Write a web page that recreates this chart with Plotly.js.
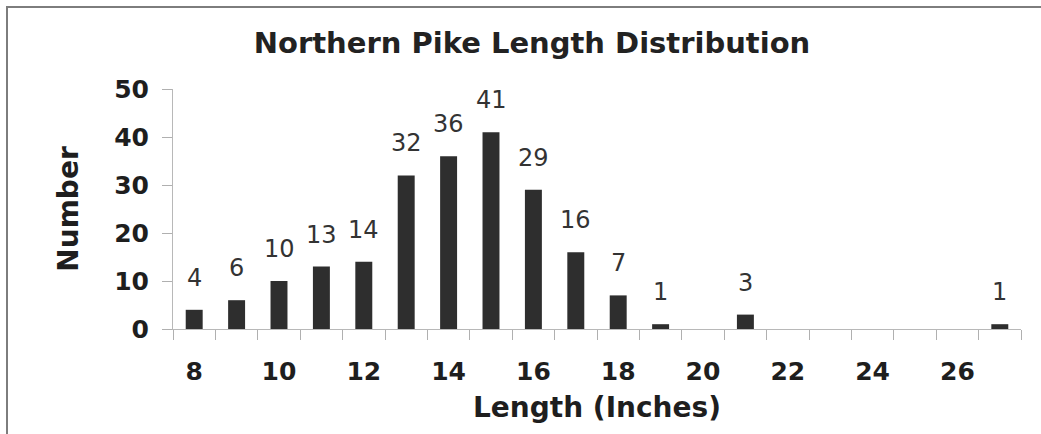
<!DOCTYPE html>
<html>
<head>
<meta charset="utf-8">
<script src="https://cdn.plot.ly/plotly-3.0.1.min.js"></script>
<style>
  html, body { margin: 0; padding: 0; background: #ffffff; }
  #chart { width: 1041px; height: 434px; }
</style>
</head>
<body>
<div id="chart"></div>
<script>
// ---- data ----
const lengths = [8, 9, 10, 11, 12, 13, 14, 15, 16, 17, 18, 19, 20, 21, 22, 23, 24, 25, 26, 27];
const counts  = [4, 6, 10, 13, 14, 32, 36, 41, 29, 16, 7, 1, 0, 3, 0, 0, 0, 0, 0, 1];
const xTickVals = [8, 10, 12, 14, 16, 18, 20, 22, 24, 26];
const yTickVals = [0, 10, 20, 30, 40, 50];
const chartTitle = "Northern Pike Length Distribution";
const xTitle = "Length (Inches)";
const yTitle = "Number";

// ---- layout constants ----
const W = 1041, H = 434;
const M = { l: 173, r: 20, t: 89, b: 105 };
const plotW = W - M.l - M.r, plotH = H - M.t - M.b;
const px2x = px => (px - M.l) / plotW;
const py2y = py => (H - M.b - py) / plotH;

const font = "DejaVu Sans, Liberation Sans, Arial, sans-serif";

const trace = {
  type: 'bar',
  x: lengths,
  y: counts,
  width: 0.4,
  marker: { color: '#2e2e2e', line: { width: 0 } },
  hoverinfo: 'x+y',
  showlegend: false
};

const annotations = [];
lengths.forEach((x, i) => {
  if (counts[i] > 0) {
    annotations.push({
      x: x, y: counts[i], xref: 'x', yref: 'y',
      text: String(counts[i]), showarrow: false,
      yanchor: 'bottom', xanchor: 'center', yshift: 16,
      font: { family: font, size: 24, color: '#333333' }
    });
  }
});

const frameColor = '#7d7d7d';
const shapes = [
  { type: 'line', xref: 'paper', yref: 'paper',
    x0: px2x(7), x1: px2x(7), y0: py2y(7), y1: py2y(H + 2),
    line: { color: frameColor, width: 2 } },
  { type: 'line', xref: 'paper', yref: 'paper',
    x0: px2x(6), x1: px2x(W + 2), y0: py2y(7), y1: py2y(7),
    line: { color: frameColor, width: 2 } }
];

const layout = {
  width: W, height: H,
  margin: M,
  paper_bgcolor: '#ffffff',
  plot_bgcolor: '#ffffff',
  title: {
    text: chartTitle,
    xref: 'container', yref: 'container',
    x: 532 / W, y: 1 - 43 / H, xanchor: 'center', yanchor: 'middle',
    font: { family: font, size: 29, weight: 700, color: '#222222' }
  },
  xaxis: {
    range: [7.5, 27.5],
    tickmode: 'array', tickvals: xTickVals,
    ticks: '', ticklabelstandoff: 20,
    tickfont: { family: font, size: 25, weight: 700, color: '#1e1e1e' },
    minor: { tickmode: 'linear', tick0: 7.5, dtick: 1, ticks: 'outside', ticklen: 10, tickcolor: '#b0b0b0', tickwidth: 1, showgrid: false },
    showline: true, linecolor: '#b8b8b8', linewidth: 1,
    showgrid: false, zeroline: false, fixedrange: true,
    title: { text: xTitle, standoff: 12,
      font: { family: font, size: 28, weight: 700, color: '#1e1e1e' } }
  },
  yaxis: {
    range: [0, 50],
    tickmode: 'array', tickvals: yTickVals,
    ticks: 'outside', ticklen: 10, tickcolor: '#b0b0b0', tickwidth: 1,
    ticklabelstandoff: 8,
    tickfont: { family: font, size: 25, weight: 700, color: '#1e1e1e' },
    showline: true, linecolor: '#b8b8b8', linewidth: 1,
    showgrid: false, zeroline: false, fixedrange: true,
    title: { text: yTitle, standoff: 27,
      font: { family: font, size: 28, weight: 700, color: '#1e1e1e' } }
  },
  annotations: annotations,
  shapes: shapes,
  bargap: 0.6
};

Plotly.newPlot('chart', [trace], layout, { displayModeBar: false, staticPlot: true });
</script>
</body>
</html>
